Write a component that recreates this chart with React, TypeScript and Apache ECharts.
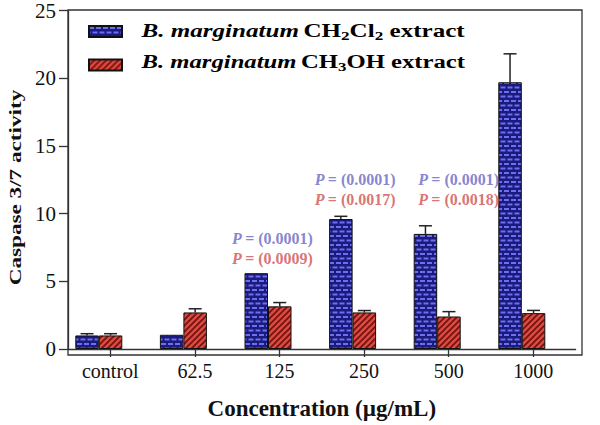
import React, { useEffect, useRef } from "react";
import * as echarts from "echarts";

const categories = ["control", "62.5", "125", "250", "500", "1000"];
const ch2cl2Values = [1.0, 1.05, 5.6, 9.6, 8.5, 19.7];
const ch2cl2Errors = [0.13, 0, 0, 0.2, 0.6, 2.1];
const ch3ohValues = [1.0, 2.7, 3.15, 2.7, 2.4, 2.65];
const ch3ohErrors = [0.13, 0.27, 0.28, 0.14, 0.36, 0.2];
const yTicks = [0, 5, 10, 15, 20, 25];
const pAnnotations = [
  { cat: "125", p1: "0.0001", p2: "0.0009" },
  { cat: "250", p1: "0.0001", p2: "0.0017" },
  { cat: "500", p1: "0.0001", p2: "0.0018" },
];

const FONT = "'Liberation Serif', 'Times New Roman', serif";
const BAR_W = 23.5;
const INV_W = 23;
const BLUE_TXT = "#1c1cb0";
const RED_TXT = "#d42222";

function brickPattern(): string {
  const c = document.createElement("canvas");
  c.width = 14;
  c.height = 9;
  const ctx = c.getContext("2d")!;
  ctx.fillStyle = "#1b1b7c";
  ctx.fillRect(0, 0, 14, 9);
  ctx.fillStyle = "#6e6ef2";
  ctx.fillRect(0, 1, 5, 2);
  ctx.fillRect(7, 1, 5, 2);
  ctx.fillRect(3.5, 5.5, 5, 2);
  ctx.fillRect(10.5, 5.5, 5, 2);
  ctx.fillRect(-3.5, 5.5, 5, 2);
  return c.toDataURL();
}

function stripePattern(): string {
  const c = document.createElement("canvas");
  c.width = 6;
  c.height = 6;
  const ctx = c.getContext("2d")!;
  ctx.fillStyle = "#e2483f";
  ctx.fillRect(0, 0, 6, 6);
  ctx.strokeStyle = "#6e1410";
  ctx.lineWidth = 1.7;
  for (const k of [-6, 0, 6]) {
    ctx.beginPath();
    ctx.moveTo(k - 1, 7);
    ctx.lineTo(k + 7, -1);
    ctx.stroke();
  }
  return c.toDataURL();
}

export default function App() {
  const ref = useRef<HTMLDivElement>(null);
  useEffect(() => {
    document.body.style.margin = "0";
    if (!ref.current) return;
    const chart = echarts.init(ref.current, null, { renderer: "svg" });
    const bluePat = { image: brickPattern(), repeat: "repeat", imageWidth: 14, imageHeight: 9 } as any;
    const redPat = { image: stripePattern(), repeat: "repeat", imageWidth: 6, imageHeight: 6 } as any;

    const groupW = 2 * BAR_W + INV_W;
    const errSeries = (vals: number[], errs: number[], idxInGroup: number, name: string) => ({
      type: "custom",
      name,
      z: 5,
      silent: true,
      data: categories.map((_, i) => [i, vals[i], errs[i]]),
      encode: { x: 0, y: 1 },
      renderItem: (params: any, api: any) => {
        const i = api.value(0);
        const v = api.value(1);
        const e = api.value(2);
        if (!(e > 0)) return null;
        const base = api.coord([i, v]);
        const top = api.coord([i, v + e]);
        const cx = base[0] - groupW / 2 + BAR_W / 2 + idxInGroup * BAR_W;
        const capHalf = 6.5;
        return {
          type: "group",
          children: [
            { type: "line", shape: { x1: cx, y1: base[1], x2: cx, y2: top[1] }, style: { stroke: "#222", lineWidth: 1.5 } },
            { type: "line", shape: { x1: cx - capHalf, y1: top[1], x2: cx + capHalf, y2: top[1] }, style: { stroke: "#222", lineWidth: 1.5 } },
          ],
        };
      },
    });

    const LF = 19;
    const SF = 13;
    const mkLegendRich = (color: string) => ({
      i: { fontFamily: FONT, fontSize: LF, fontWeight: "bold", fontStyle: "italic", color, lineHeight: 22 },
      n: { fontFamily: FONT, fontSize: LF, fontWeight: "bold", color, lineHeight: 22 },
      s: { fontFamily: FONT, fontSize: SF, fontWeight: "bold", color, lineHeight: 13, verticalAlign: "bottom" },
    });

    const PF = 16;
    const pRich = {
      bp: { fontFamily: FONT, fontSize: PF, fontWeight: "bold", fontStyle: "italic", color: "#6666c4", lineHeight: 20 },
      bt: { fontFamily: FONT, fontSize: PF, fontWeight: "bold", color: "#6666c4", lineHeight: 20 },
      rp: { fontFamily: FONT, fontSize: PF, fontWeight: "bold", fontStyle: "italic", color: "#cf5050", lineHeight: 20 },
      rt: { fontFamily: FONT, fontSize: PF, fontWeight: "bold", color: "#cf5050", lineHeight: 20 },
    };
    const pY: Record<string, number> = { "125": 7.4, "250": 11.75, "500": 11.75 };
    const pDx: Record<string, number> = { "125": -7, "250": -9, "500": 10 };

    chart.setOption({
      animation: false,
      backgroundColor: "#ffffff",
      grid: { left: 68, right: 24.4, top: 10, bottom: 70, containLabel: false },
      legend: {
        orient: "vertical",
        left: 88,
        top: 25,
        padding: 0,
        itemWidth: 33,
        itemHeight: 11,
        itemGap: 20.5,
        icon: "rect",
        selectedMode: false,
        data: ["ch2cl2", "ch3oh"],
        formatter: () => "",
        textStyle: { fontSize: 11, lineHeight: 11 },
      },
      xAxis: {
        type: "category",
        data: categories,
        name: "Concentration (µg/mL)",
        nameLocation: "middle",
        nameGap: 48,
        nameTextStyle: { fontFamily: FONT, fontSize: 23, fontWeight: "bold", color: "#111" },
        axisLine: { show: true, lineStyle: { color: "#333", width: 1.3 } },
        axisTick: { show: true, alignWithLabel: true, length: 8, lineStyle: { color: "#333", width: 1.3 } },
        axisLabel: { fontFamily: FONT, fontSize: 20, color: "#111", margin: 12 },
        splitLine: { show: false },
      },
      yAxis: {
        type: "value",
        min: 0,
        max: 25,
        interval: 5,
        axisLine: { show: true, lineStyle: { color: "#333", width: 1.3 } },
        axisTick: { show: true, length: 9, lineStyle: { color: "#333", width: 1.3 } },
        axisLabel: {
          fontFamily: FONT,
          fontSize: 21,
          color: "#111",
          margin: 12,
          formatter: (v: number) => (yTicks.includes(v) ? String(v) : ""),
        },
        splitLine: { show: false },
      },
      graphic: [
        {
          type: "rect",
          shape: { x: 68, y: 10, width: 514, height: 345 },
          style: { fill: "none", stroke: "#333", lineWidth: 1.3 },
          silent: true,
          z: 0,
        },
        {
          type: "text",
          x: 15.5,
          y: 187.5,
          rotation: Math.PI / 2,
          scaleX: 1.45,
          style: {
            text: "Caspase 3/7 activity",
            fontFamily: FONT,
            fontSize: 16,
            fontWeight: "bold",
            fill: "#111",
            align: "center",
            verticalAlign: "middle",
          },
        },
        {
          type: "text",
          x: 141.5,
          y: 30.5,
          scaleX: 1.32,
          style: {
            text: "{i|B. marginatum} {n|CH}{s|2}{n|Cl}{s|2}{n| extract}",
            rich: mkLegendRich(BLUE_TXT),
            align: "left",
            verticalAlign: "middle",
          },
        },
        {
          type: "text",
          x: 141.5,
          y: 62,
          scaleX: 1.3,
          style: {
            text: "{i|B. marginatum} {n|CH}{s|3}{n|OH extract}",
            rich: mkLegendRich(RED_TXT),
            align: "left",
            verticalAlign: "middle",
          },
        },
      ],
      series: [
        {
          type: "bar",
          name: "ch2cl2",
          data: ch2cl2Values,
          barWidth: BAR_W,
          barGap: "0%",
          itemStyle: { color: bluePat, borderColor: "#111", borderWidth: 1 },
        },
        {
          type: "bar",
          name: "ch3oh",
          data: ch3ohValues,
          barWidth: BAR_W,
          barGap: "0%",
          itemStyle: { color: redPat, borderColor: "#111", borderWidth: 1 },
        },
        {
          type: "bar",
          name: "spacer",
          data: categories.map(() => 0),
          barWidth: INV_W,
          barGap: "0%",
          silent: true,
          itemStyle: { color: "rgba(0,0,0,0)", borderWidth: 0 },
        },
        errSeries(ch2cl2Values, ch2cl2Errors, 0, "ch2cl2 err"),
        errSeries(ch3ohValues, ch3ohErrors, 1, "ch3oh err"),
        {
          type: "scatter",
          name: "pvalues",
          symbolSize: 0,
          silent: true,
          z: 6,
          data: pAnnotations.map((a) => ({
            value: [a.cat, pY[a.cat]],
            label: {
              show: true,
              position: "inside",
              offset: [pDx[a.cat], 0],
              formatter: `{bp|P} {bt|= (${a.p1})}\n{rp|P} {rt|= (${a.p2})}`,
              rich: pRich,
            },
          })),
        },
      ],
    });
    return () => chart.dispose();
  }, []);
  return <div ref={ref} style={{ width: 600, height: 425 }} />;
}
